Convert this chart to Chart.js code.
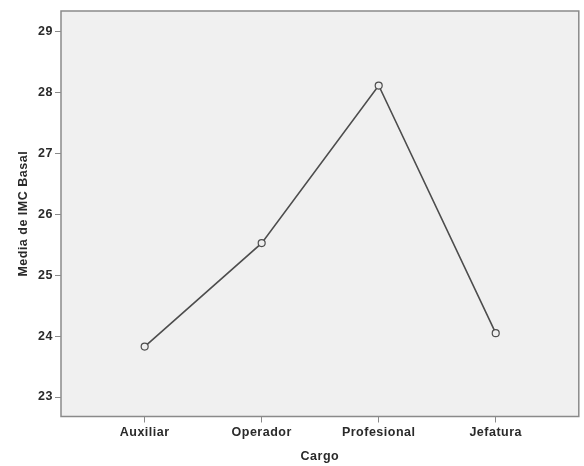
<!DOCTYPE html>
<html>
<head>
<meta charset="utf-8">
<script src="https://cdn.jsdelivr.net/npm/chart.js@4.4.1/dist/chart.umd.min.js"></script>
<style>
    html, body { margin: 0; padding: 0; background: #ffffff; }
    #wrap { width: 584px; height: 466px; }
</style>
</head>
<body>
<div id="wrap"><canvas id="LineChartCargo" width="584" height="466"></canvas></div>
<script>
const cargoLabels = ['Auxiliar', 'Operador', 'Profesional', 'Jefatura'];
const imcMeans = [23.83, 25.53, 28.12, 24.05];
const yTickValues = [23, 24, 25, 26, 27, 28, 29];

document.addEventListener('DOMContentLoaded', (event) => {
    const canvas = document.getElementById('LineChartCargo');
    const ctx = canvas.getContext('2d');
    const axisGray = '#8a8a8a';
    const labelFont = { family: '"Liberation Sans", Arial, sans-serif', size: 12.5, weight: 'bold' };

    // plot background and frame, SPSS style
    const plotFrame = {
        id: 'plotFrame',
        beforeDraw(chart) {
            const a = chart.chartArea;
            const c = chart.ctx;
            c.save();
            c.fillStyle = '#f0f0f0';
            c.fillRect(a.left, a.top, a.right - a.left, a.bottom - a.top);
            c.restore();
            c.letterSpacing = '0.5px';
        },
        afterDraw(chart) {
            const a = chart.chartArea;
            const c = chart.ctx;
            c.save();
            c.strokeStyle = axisGray;
            c.lineWidth = 1.5;
            c.strokeRect(a.left, a.top, a.right - a.left, a.bottom - a.top);
            c.restore();
        }
    };

    new Chart(ctx, {
        type: 'line',
        data: {
            datasets: [{
                label: 'Media de IMC Basal',
                data: imcMeans.map((v, i) => ({ x: i, y: v })),
                borderColor: '#4d4d4d',
                borderWidth: 1.6,
                pointRadius: 3.5,
                pointBorderWidth: 1.2,
                pointBorderColor: '#4d4d4d',
                pointBackgroundColor: '#eeeeee',
                tension: 0
            }]
        },
        options: {
            responsive: false,
            animation: false,
            layout: { padding: { top: 11, right: 3, left: 0, bottom: 0 } },
            plugins: {
                legend: { display: false },
                tooltip: { enabled: false }
            },
            scales: {
                x: {
                    type: 'linear',
                    min: -0.715,
                    max: 3.71,
                    afterBuildTicks: scale => {
                        scale.ticks = cargoLabels.map((l, i) => ({ value: i }));
                    },
                    afterFit: scale => { scale.height = 49.5; },
                    border: { display: false },
                    grid: { display: true, drawOnChartArea: false, drawTicks: true, tickLength: 6, color: axisGray, lineWidth: 1 },
                    ticks: {
                        padding: 3,
                        color: '#2a2a2a',
                        font: labelFont,
                        maxRotation: 0,
                        callback: value => cargoLabels[value]
                    },
                    title: {
                        display: true,
                        text: 'Cargo',
                        color: '#2a2a2a',
                        font: labelFont,
                        padding: { top: 0, bottom: 2 }
                    }
                },
                y: {
                    min: 22.68,
                    max: 29.345,
                    afterBuildTicks: scale => {
                        scale.ticks = yTickValues.map(v => ({ value: v }));
                    },
                    afterFit: scale => { scale.width = 61; },
                    border: { display: false },
                    grid: { display: true, drawOnChartArea: false, drawTicks: true, tickLength: 6, color: axisGray, lineWidth: 1 },
                    ticks: {
                        padding: 2,
                        color: '#2a2a2a',
                        font: labelFont
                    },
                    title: {
                        display: true,
                        text: 'Media de IMC Basal',
                        color: '#2a2a2a',
                        font: labelFont,
                        padding: { top: 16, bottom: 0 }
                    }
                }
            }
        },
        plugins: [plotFrame]
    });
});
</script>
</body>
</html>
